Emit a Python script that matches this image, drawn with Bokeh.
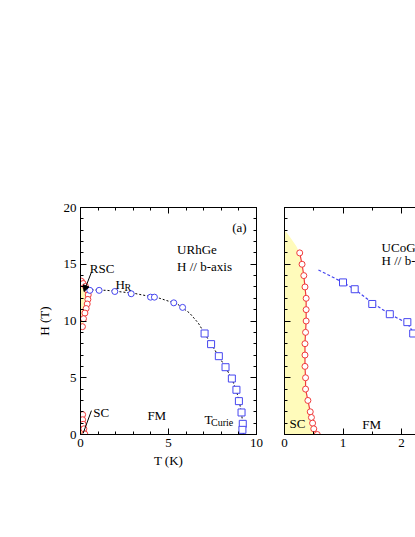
from bokeh.plotting import figure
from bokeh.layouts import row
from bokeh.models import (LinearAxis, Range1d, SingleIntervalTicker, Label, Arrow,
                          NormalHead, CustomJSTickFormatter)
from bokeh.embed import file_html
from bokeh.resources import INLINE

FONT = "Times New Roman"
RED = "#f03c3c"
BLUE = "#4646f0"
YELLOW = "#fffbbb"

# ---------------- URhGe (panel a) ----------------
urhge_rsc_T = [0.05, 0.15, 0.28, 0.40, 0.44, 0.42, 0.38, 0.32, 0.25, 0.17, 0.11]
urhge_rsc_H = [13.5, 13.3, 13.05, 12.7, 12.3, 11.9, 11.5, 11.1, 10.7, 10.2, 9.5]
urhge_sc_T = [0.12, 0.12, 0.15, 0.19, 0.24]
urhge_sc_H = [1.75, 1.3, 0.9, 0.5, 0.05]
urhge_hr_T = [0.53, 1.06, 1.95, 2.88, 3.98, 4.2, 5.3, 5.8]
urhge_hr_H = [12.7, 12.7, 12.6, 12.4, 12.1, 12.1, 11.6, 11.2]
urhge_tc_T = [7.05, 7.42, 7.86, 8.24, 8.6, 8.86, 9.0, 9.15, 9.22, 9.2]
urhge_tc_H = [8.9, 7.96, 6.9, 5.93, 4.93, 3.94, 2.94, 1.94, 0.94, 0.41]
urhge_fit_T = [0.4, 1.5, 3.0, 4.5, 5.5, 6.2, 6.7, 7.05, 7.45, 7.85, 8.25, 8.6, 8.85, 9.02, 9.15, 9.22, 9.25]
urhge_fit_H = [12.75, 12.7, 12.45, 12.0, 11.5, 10.7, 9.8, 8.9, 7.9, 6.9, 5.9, 4.9, 3.9, 2.9, 1.9, 0.9, 0.0]

# ---------------- UCoGe (panel b) ----------------
ucoge_sc_T = [0.26, 0.30, 0.33, 0.35, 0.37, 0.37, 0.37, 0.36, 0.35, 0.35, 0.35, 0.36,
              0.36, 0.40, 0.44, 0.46, 0.48, 0.50, 0.56]
ucoge_sc_H = [16, 15, 14, 13, 12, 11, 10, 9, 8, 7, 6, 5, 4, 3, 2, 1.5, 1.0, 0.5, 0]
ucoge_dome_T = [0.0, 0.05, 0.12, 0.20]
ucoge_dome_H = [18.0, 17.7, 17.2, 16.6]
ucoge_tc_T = [1.0, 1.2, 1.5, 1.8, 2.1, 2.2]
ucoge_tc_H = [13.4, 12.8, 11.5, 10.6, 9.9, 8.9]
ucoge_fit_T = [0.58, 1.0, 1.2, 1.5, 1.8, 2.1, 2.25, 2.4]
ucoge_fit_H = [14.5, 13.4, 12.8, 11.6, 10.6, 9.8, 8.6, 7.5]


def style_axis(ax, interval, minor, labels=True):
    ax.ticker = SingleIntervalTicker(interval=interval, num_minor_ticks=minor)
    ax.major_tick_in = 6
    ax.major_tick_out = 0
    ax.minor_tick_in = 3
    ax.minor_tick_out = 0
    ax.axis_line_color = "black"
    ax.major_tick_line_color = "black"
    ax.minor_tick_line_color = "black"
    ax.major_label_text_font = FONT
    ax.major_label_text_font_size = "13px"
    ax.major_label_text_color = "black"
    ax.major_label_standoff = 4
    ax.axis_label_text_font = FONT
    ax.axis_label_text_font_size = "13px"
    ax.axis_label_text_font_style = "normal"
    ax.axis_label_text_color = "black"
    if not labels:
        ax.formatter = CustomJSTickFormatter(code="return ''")


def lab(p, x, y, text, size="13px", align="left"):
    p.add_layout(Label(x=x, y=y, text=text, text_font=FONT, text_font_size=size,
                       text_color="black", text_align=align, text_baseline="alphabetic"))


# ---------------- left figure ----------------
p1 = figure(x_range=Range1d(0, 10), y_range=Range1d(0, 20),
            frame_width=176, frame_height=227,
            min_border_left=80, min_border_right=14, min_border_top=207, min_border_bottom=52,
            output_backend="svg", toolbar_location=None)
p1.grid.visible = False
p1.outline_line_color = "black"
p1.background_fill_color = "white"
p1.border_fill_color = "white"
style_axis(p1.xaxis[0], 5, 5)
style_axis(p1.yaxis[0], 5, 5)
p1.xaxis[0].axis_label = "T (K)"
p1.xaxis[0].axis_label_standoff = 3
p1.yaxis[0].axis_label = "H (T)"
p1.yaxis[0].axis_label_standoff = 9
top1 = LinearAxis()
style_axis(top1, 5, 5, labels=False)
p1.add_layout(top1, "above")
right1 = LinearAxis()
style_axis(right1, 5, 5, labels=False)
p1.add_layout(right1, "right")

p1.patch([0] + urhge_rsc_T + [0], [urhge_rsc_H[0]] + urhge_rsc_H + [urhge_rsc_H[-1]],
         fill_color=YELLOW, line_color=None)
p1.patch([0] + urhge_sc_T + [0], [urhge_sc_H[0]] + urhge_sc_H + [0],
         fill_color=YELLOW, line_color=None)
p1.line(urhge_fit_T, urhge_fit_H, line_color="black", line_dash="2 2", line_width=1)
p1.scatter(urhge_rsc_T, urhge_rsc_H, marker="circle", size=6, line_color=RED,
           fill_color="white", line_width=1)
p1.scatter(urhge_sc_T, urhge_sc_H, marker="circle", size=6, line_color=RED,
           fill_color="white", line_width=1)
p1.scatter(urhge_hr_T, urhge_hr_H, marker="circle", size=6, line_color=BLUE,
           fill_color="white", line_width=1)
p1.scatter(urhge_tc_T, urhge_tc_H, marker="square", size=7, line_color=BLUE,
           fill_color="white", line_width=1)

lab(p1, 8.62, 18.2, "(a)")
lab(p1, 5.49, 16.3, "URhGe")
lab(p1, 5.49, 14.8, "H // b-axis")
lab(p1, 0.53, 14.66, "RSC")
lab(p1, 1.99, 13.19, "H")
lab(p1, 2.5, 12.98, "R", size="10px")
lab(p1, 0.72, 1.94, "SC")
lab(p1, 3.8, 1.67, "FM")
lab(p1, 7.05, 1.29, "T")
lab(p1, 7.42, 1.1, "Curie", size="10px")
p1.add_layout(Arrow(end=NormalHead(size=6, fill_color="black", line_color="black"),
                    x_start=0.62, y_start=14.3, x_end=0.2, y_end=12.6,
                    line_color="black", line_width=1))
p1.add_layout(Arrow(end=None, x_start=0.62, y_start=2.1, x_end=0.15, y_end=0.1,
                    line_color="black", line_width=1))

# ---------------- right figure ----------------
x_end2 = 131 / 58.5
p2 = figure(x_range=Range1d(0, x_end2), y_range=Range1d(0, 20),
            frame_width=131, frame_height=227,
            min_border_left=14, min_border_right=0, min_border_top=207, min_border_bottom=52,
            output_backend="svg", toolbar_location=None)
p2.grid.visible = False
p2.outline_line_color = None
p2.background_fill_color = "white"
p2.border_fill_color = "white"
style_axis(p2.xaxis[0], 1, 2)
style_axis(p2.yaxis[0], 5, 5, labels=False)
top2 = LinearAxis()
style_axis(top2, 1, 2, labels=False)
p2.add_layout(top2, "above")

p2.patch(ucoge_dome_T + ucoge_sc_T + [0], ucoge_dome_H + ucoge_sc_H + [0],
         fill_color=YELLOW, line_color=None)
p2.line(ucoge_fit_T, ucoge_fit_H, line_color=BLUE, line_dash="3 2", line_width=1.2)
p2.line(ucoge_sc_T, ucoge_sc_H, line_color=RED, line_width=1.2)
p2.scatter(ucoge_sc_T, ucoge_sc_H, marker="circle", size=6, line_color=RED,
           fill_color="white", line_width=1)
p2.scatter(ucoge_tc_T, ucoge_tc_H, marker="square", size=7, line_color=BLUE,
           fill_color="white", line_width=1)

lab(p2, 1.66, 16.5, "UCoGe")
lab(p2, 1.66, 15.33, "H // b-axis")
lab(p2, 0.085, 0.97, "SC")
lab(p2, 1.33, 0.88, "FM")
lab(p2, 1.51, -2.9, "T (K)", align="center")

layout = row(p1, p2)
open("out.html", "w").write(file_html(layout, INLINE))
